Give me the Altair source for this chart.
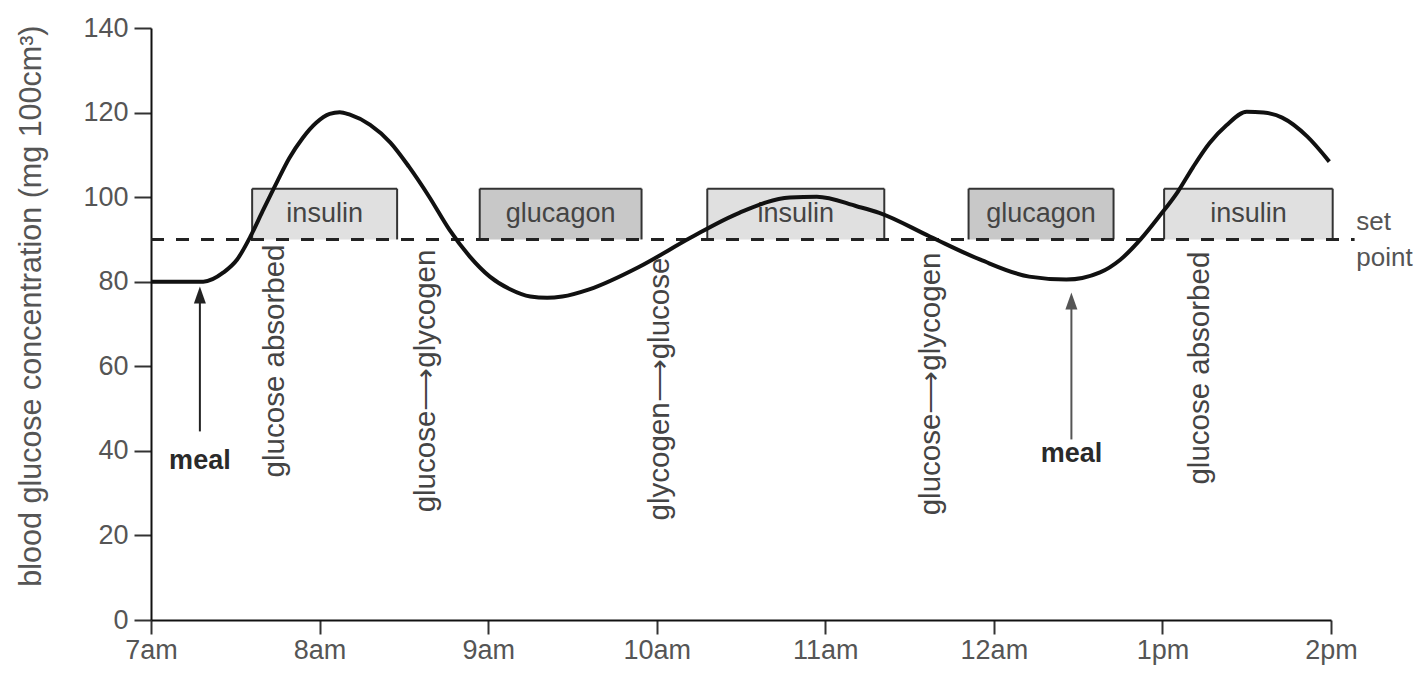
import altair as alt
import pandas as pd

FONT = "Liberation Sans, Arial, sans-serif"

# x axis: hours after 7am
x_tick_values = [0, 1, 2, 3, 4, 5, 6, 7]
x_tick_labels = ["7am", "8am", "9am", "10am", "11am", "12am", "1pm", "2pm"]
y_tick_values = [0, 20, 40, 60, 80, 100, 120, 140]

# blood glucose curve
hours = [0, 0.31, 0.43, 0.51, 0.59, 0.66, 0.75, 0.82, 0.90, 0.98, 1.06, 1.12,
         1.18, 1.30, 1.42, 1.53, 1.65, 1.77, 1.89, 2.01, 2.13, 2.25, 2.35,
         2.44, 2.60, 2.90, 3.20, 3.49, 3.79, 3.95, 4.19, 4.32, 4.62, 4.92,
         5.21, 5.43, 5.63, 5.75, 5.87, 5.98, 6.09, 6.18, 6.28, 6.38, 6.50,
         6.60, 6.71, 6.86, 6.99]
glucose = [80, 80, 82.2, 85.2, 90.7, 96.5, 103.8, 109.2, 114.0, 117.6, 119.7,
           120.1, 119.5, 117.1, 112.9, 107.2, 100.1, 92.3, 86, 81.2, 78.2,
           76.5, 76.2, 76.5, 78.2, 83.6, 90.4, 96.3, 99.9, 100.1, 97.8, 96.3,
           90.7, 85.2, 81.2, 80.5, 82.2, 85.2, 90, 95.4, 101.2, 107.0, 112.8,
           117.0, 120.2, 120, 118.8, 114.3, 108.4]

# hormone boxes
box_labels = ["insulin", "glucagon", "insulin", "glucagon", "insulin"]
box_start = [0.60, 1.95, 3.30, 4.85, 6.01]
box_end = [1.46, 2.91, 4.35, 5.71, 7.01]
box_fill = ["#e0e0e0", "#c8c8c8", "#e0e0e0", "#c8c8c8", "#e0e0e0"]
box_low = 90
box_high = 102

# set point line
set_point = 90
set_point_end = 7.14
set_point_text = ["set", "point"]
set_point_text_y = [94.2, 85.7]

# process labels (rotated)
proc_labels = ["glucose absorbed", "glucose\u27f6glycogen", "glycogen\u27f6glucose",
               "glucose\u27f6glycogen", "glucose absorbed"]
proc_hours = [0.735, 1.63, 3.02, 4.63, 6.22]
proc_top = [88.8, 87.6, 85.7, 86.9, 87.1]

# meal arrows
meal_hours = [0.29, 5.46]
meal_tail = [44.6, 42.7]
meal_head = [76.5, 75.1]
meal_label_y = [37.5, 39.2]
meal_color = ["#222222", "#555555"]

curve_df = pd.DataFrame({"h": hours, "g": glucose})
box_df = pd.DataFrame({"label": box_labels, "x": box_start, "x2": box_end,
                       "fill": box_fill, "y": [box_low] * 5, "y2": [box_high] * 5})
box_df["xc"] = (box_df["x"] + box_df["x2"]) / 2
box_df["yc"] = (box_low + box_high) / 2

edges = []
for s, e in zip(box_start, box_end):
    edges.append({"x": s, "x2": e, "y": box_high, "y2": box_high})
    edges.append({"x": s, "x2": s, "y": box_low, "y2": box_high})
    edges.append({"x": e, "x2": e, "y": box_low, "y2": box_high})
edge_df = pd.DataFrame(edges)

sp_df = pd.DataFrame({"x": [0], "x2": [set_point_end], "y": [set_point]})
sp_text_df = pd.DataFrame({"t": set_point_text, "x": [set_point_end + 0.01] * 2,
                           "y": set_point_text_y})
proc_df = pd.DataFrame({"t": proc_labels, "x": proc_hours, "y": proc_top})
meal_df = pd.DataFrame({"x": meal_hours, "y": meal_tail, "y2": meal_head,
                        "ly": meal_label_y, "c": meal_color})

label_expr = "[" + ",".join("'%s'" % s for s in x_tick_labels) + "][datum.value]"

xscale = alt.Scale(domain=[0, 7], nice=False, zero=False)
yscale = alt.Scale(domain=[0, 140], nice=False)

x_axis = alt.Axis(values=x_tick_values, labelExpr=label_expr, title=None,
                  grid=False, tickSize=14, tickWidth=2, tickColor="#333333",
                  domainColor="#111111", domainWidth=2, labelFontSize=27,
                  labelColor="#555555", labelPadding=3, labelFont=FONT,
                  labelFlush=False)
y_axis = alt.Axis(values=y_tick_values, title="blood glucose concentration (mg 100cm\u00b3)",
                  grid=False, tickSize=17, tickWidth=2, tickColor="#333333",
                  domainColor="#111111", domainWidth=2, labelFontSize=27,
                  labelColor="#555555", labelPadding=6, labelFont=FONT,
                  titleFont=FONT, titleFontSize=30.5, titleFontWeight="normal",
                  titleColor="#555555", titleAngle=270, titleAlign="right",
                  titleBaseline="middle", titleX=-120, titleY=-3)

base_x = alt.X("x:Q", scale=xscale, axis=x_axis)
base_y = alt.Y("y:Q", scale=yscale, axis=y_axis)

boxes = alt.Chart(box_df).mark_rect(strokeWidth=0).encode(
    x=base_x, x2="x2:Q", y=base_y, y2="y2:Q",
    fill=alt.Fill("fill:N", scale=None))

box_edges = alt.Chart(edge_df).mark_rule(color="#333333", strokeWidth=2).encode(
    x="x:Q", x2="x2:Q", y="y:Q", y2="y2:Q")

box_text = alt.Chart(box_df).mark_text(font=FONT, fontSize=27, color="#444444",
                                       baseline="middle", align="center").encode(
    x="xc:Q", y="yc:Q", text="label:N")

sp_line = alt.Chart(sp_df).mark_rule(color="#222222", strokeWidth=3,
                                     strokeDash=[13, 12]).encode(
    x="x:Q", x2="x2:Q", y="y:Q")

sp_text = alt.Chart(sp_text_df).mark_text(font=FONT, fontSize=26, color="#555555",
                                          align="left", baseline="middle").encode(
    x="x:Q", y="y:Q", text="t:N")

curve = alt.Chart(curve_df).mark_line(color="#111111", strokeWidth=4,
                                      interpolate="monotone").encode(
    x=alt.X("h:Q", scale=xscale), y=alt.Y("g:Q", scale=yscale))

proc = alt.Chart(proc_df).mark_text(font=FONT, fontSize=29.5, color="#444444",
                                    angle=270, align="right",
                                    baseline="middle").encode(
    x="x:Q", y="y:Q", text="t:N")

meal_shaft = alt.Chart(meal_df).mark_rule(strokeWidth=2).encode(
    x="x:Q", y="y:Q", y2="y2:Q", color=alt.Color("c:N", scale=None))

meal_head_mark = alt.Chart(meal_df).mark_point(
    shape="M0,-1L0.6,0.7L-0.6,0.7Z", filled=True, size=400, opacity=1,
    strokeWidth=0).encode(
    x="x:Q", y="y2:Q", color=alt.Color("c:N", scale=None))

meal_text = alt.Chart(meal_df).mark_text(font=FONT, fontSize=27, fontWeight="bold",
                                         color="#2a2a2a", baseline="middle",
                                         align="center").encode(
    x="x:Q", y="ly:Q", text=alt.value("meal"))

chart = alt.layer(
    boxes, box_edges, box_text, sp_line, sp_text, curve, proc,
    meal_shaft, meal_head_mark, meal_text
).properties(
    width=1180, height=592,
    autosize=alt.AutoSizeParams(type="none"),
    padding={"left": 143, "top": 20, "right": 88, "bottom": 48},
    background="white",
).configure_view(stroke=None)

chart.save("out.html", embed_options={"renderer": "svg", "actions": False})
